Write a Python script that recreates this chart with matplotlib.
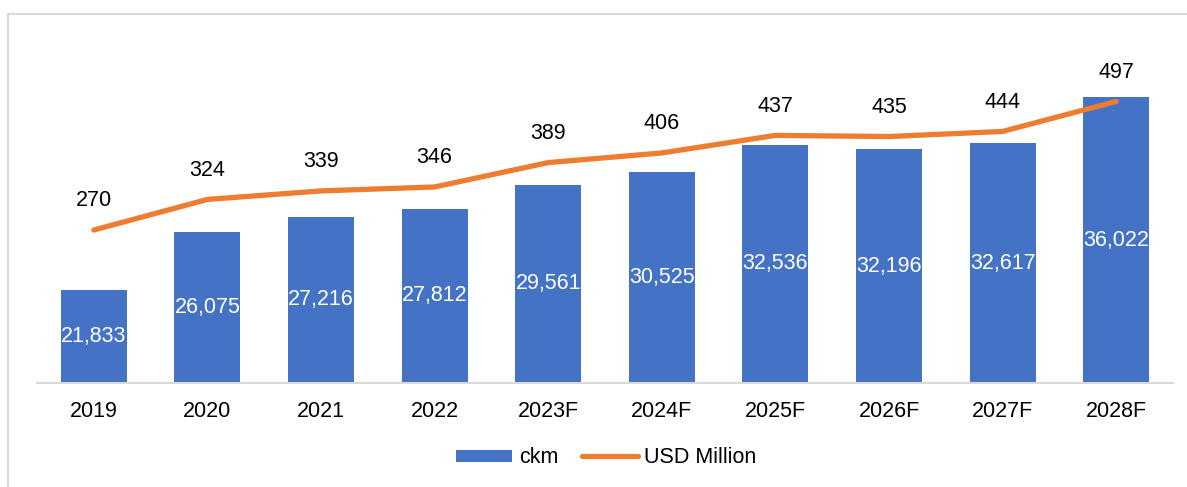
import matplotlib.pyplot as plt
from matplotlib.patches import Rectangle

# Dados do gráfico
years = ['2019', '2020', '2021', '2022', '2023F', '2024F', '2025F', '2026F', '2027F', '2028F']
ckm = [21833, 26075, 27216, 27812, 29561, 30525, 32536, 32196, 32617, 36022]
usd_million = [270, 324, 339, 346, 389, 406, 437, 435, 444, 497]

blue = '#4472C4'
orange = '#ED7D31'

plt.rcParams['font.family'] = ['Liberation Sans', 'DejaVu Sans']

fig = plt.figure(figsize=(11.87, 4.87), dpi=100)
ax = fig.add_axes([0.0312, 0.2136, 0.957, 0.698])
ax2 = ax.twinx()

x = list(range(len(years)))

# Barras (eixo principal)
bars = ax.bar(x, ckm, width=0.58, color=blue, label='ckm', zorder=2)
ax.set_ylim(15000, 40000)
ax.set_xlim(-0.5, len(years) - 0.5)
for xi, v in zip(x, ckm):
    ax.text(xi, (15000 + v) / 2, f'{v:,}', ha='center', va='center',
            color='white', fontsize=15.5, zorder=3)

# Linha (eixo secundário)
line, = ax2.plot(x, usd_million, color=orange, lw=3.8, solid_capstyle='round',
                 solid_joinstyle='round', label='USD Million')
ax2.set_ylim(0, 600)
for xi, v in zip(x, usd_million):
    ax2.annotate(str(v), (xi, v), xytext=(0, 21), textcoords='offset points',
                 ha='center', va='center', fontsize=15.5, color='black')

# Eixos
for a in (ax, ax2):
    for s in a.spines.values():
        s.set_visible(False)
    a.set_yticks([])
ax.spines['bottom'].set_visible(True)
ax.spines['bottom'].set_color('#D9D9D9')
ax.spines['bottom'].set_linewidth(1.5)
ax.set_xticks(x)
ax.set_xticklabels(years, fontsize=15.5)
ax.tick_params(axis='x', length=0, pad=13)

# Legenda
fig.legend(handles=[bars, line], labels=['ckm', 'USD Million'], loc='center',
           bbox_to_anchor=(0.511, 0.06), ncol=2, frameon=False, fontsize=15.5,
           handlelength=2.6, handleheight=0.5, handletextpad=0.3, columnspacing=1.1)

# Borda do gráfico
fig.patches.append(Rectangle((8 / 1187, -0.1), 1.2, (487 - 14) / 487 + 0.1,
                             transform=fig.transFigure, fill=False,
                             edgecolor='#D9D9D9', lw=1.5))

fig.savefig('out.png', dpi=100)
